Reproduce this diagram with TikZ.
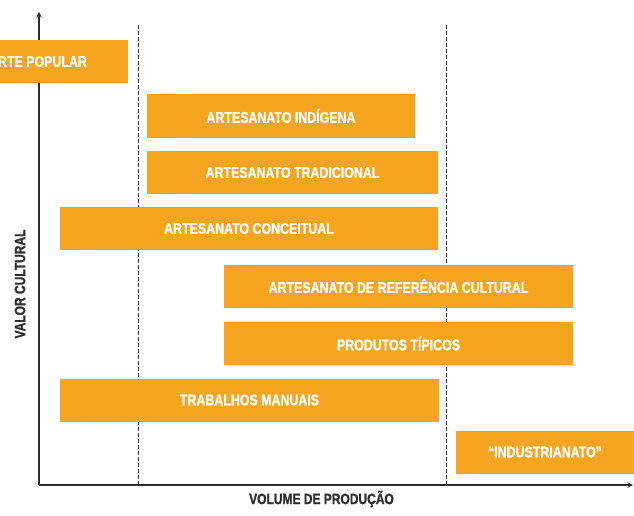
\documentclass[tikz,border=0pt]{standalone}
\usepackage{fontspec}
\setmainfont[FakeStretch=0.8,BoldFeatures={FakeBold=1.2}]{Liberation Sans}
\usepackage{tikz}
\definecolor{barorange}{RGB}{247,164,32}
\definecolor{axisgray}{RGB}{45,45,45}

\begin{document}
\begin{tikzpicture}[x=1pt,y=-1pt,>=stealth,
  bar/.style={fill=barorange,text=white,minimum height=43,inner sep=0,font=\fontsize{15.5}{17}\selectfont\bfseries},
  guide/.style={axisgray,line width=1pt,dash pattern=on 4pt off 2pt},
  axislabel/.style={text=axisgray,font=\fontsize{15}{17}\selectfont\bfseries}]
\clip (0,0) rectangle (634,516);
\coordinate (O) at (39,485);
\coordinate (ytop) at (39,12);
\coordinate (xend) at (633,485);
\coordinate (g1top) at (138,25);
\coordinate (g1bot) at (138,485);
\coordinate (g2top) at (446,25);
\coordinate (g2bot) at (446,485);
\draw[guide] (g1top) -- (g1bot);
\draw[guide] (g2top) -- (g2bot);
\draw[->,axisgray,line width=1.4pt] (O) -- (ytop);
\draw[->,axisgray,line width=1.4pt] (O) -- (xend);
\node[bar,minimum width=180] (popular) at (38,61.5) {ARTE POPULAR};
\node[bar,minimum width=268] (indigena) at (281,116) {ARTESANATO IND\'IGENA};
\node[bar,minimum width=291] (tradicional) at (292.5,172.5) {ARTESANATO TRADICIONAL};
\node[bar,minimum width=378] (conceitual) at (249,228.5) {ARTESANATO CONCEITUAL};
\node[bar,minimum width=349] (referencia) at (398.5,286) {ARTESANATO DE REFER\^ENCIA CULTURAL};
\node[bar,minimum width=349] (tipicos) at (398.5,343.5) {PRODUTOS T\'IPICOS};
\node[bar,minimum width=379] (manuais) at (249.5,400) {TRABALHOS MANUAIS};
\node[bar,minimum width=178] (industrianato) at (545,452) {“INDUSTRIANATO”};
\node[axislabel,rotate=90] (valor) at (20,284) {VALOR CULTURAL};
\node[axislabel] (volume) at (321.5,499) {VOLUME DE PRODU\c{C}\~AO};
\end{tikzpicture}
\end{document}
